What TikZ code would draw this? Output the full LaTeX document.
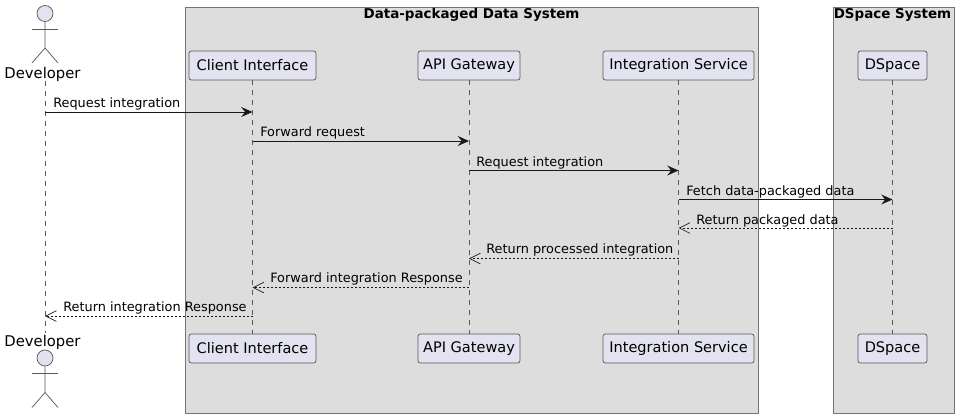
\documentclass[tikz,border=0pt]{standalone}
\usepackage{fontspec}
\setmainfont{DejaVu Sans}
\usetikzlibrary{arrows.meta, positioning}

\tikzset{
    partbox/.style={draw=black!55, fill=black!13.5, line width=0.75pt},
    parttitle/.style={font=\bfseries\fontsize{10.1}{12}\selectfont, inner sep=0pt},
    part/.style={rectangle, rounded corners=1.8pt, draw=black!65, fill=partfill, line width=0.55pt,
        font=\fontsize{10.9}{12}\selectfont, minimum height=21.75pt, inner sep=0pt, outer sep=0pt},
    actorname/.style={font=\fontsize{11.1}{12}\selectfont, inner sep=0pt},
    lifeline/.style={draw=black!65, line width=0.5pt, dash pattern=on 3.75pt off 3.75pt},
    actorline/.style={draw=black!65, line width=0.55pt},
    call/.style={-{Stealth[length=8.5pt, width=7.5pt, inset=3pt]}, line width=0.7pt, draw=black!90},
    reply/.style={-{Straight Barb[length=8pt, width=8pt]}, line width=0.5pt, draw=black!90, dash pattern=on 1.5pt off 1.5pt},
    msg/.style={font=\fontsize{9.65}{11}\selectfont, inner sep=0pt, anchor=base west},
    actor/.pic={
        \node[circle, draw=black!65, fill=partfill, line width=0.55pt, minimum size=12pt, inner sep=0pt] (-head) at (0,0) {};
        \draw[actorline] (-head.south) -- (0,34.5) -- (-13,49.5);
        \draw[actorline] (0,34.5) -- (13,49.5);
        \draw[actorline] (-13,15.5) -- (13,15.5);
    }
}
\definecolor{partfill}{HTML}{E2E2F0}

\begin{document}
\begin{tikzpicture}[x=0.75pt, y=-0.75pt]
    \useasboundingbox (0,0) rectangle (959,418);

    % grouping boxes
    \draw[partbox] (185.5,7) rectangle (758,413);
    \draw[partbox] (833,7) rectangle (954,413);
    \node[parttitle] (dataTitle) at (471.5,14.5) {Data-packaged Data System};
    \node[parttitle] (dspaceTitle) at (892.5,14.5) {DSpace System};

    % participants on top
    \node[actorname] (devTop) at (42.5,74) {Developer};
    \node[part, minimum width=95.25pt] (clientTop) at (252.5,65.5) {Client Interface};
    \node[part, minimum width=76.5pt, right=76.5pt of clientTop] (apiTop) {API Gateway};
    \node[part, minimum width=113.25pt, right=62.25pt of apiTop] (integTop) {Integration Service};
    \node[part, minimum width=51.75pt, right=78pt of integTop] (dspaceTop) {DSpace};

    % participants at the bottom
    \node[actorname] (devBot) at (42.5,342) {Developer};
    \node[part, minimum width=95.25pt, below=190.5pt of clientTop] (clientBot) {Client Interface};
    \node[part, minimum width=76.5pt, below=190.5pt of apiTop] (apiBot) {API Gateway};
    \node[part, minimum width=113.25pt, below=190.5pt of integTop] (integBot) {Integration Service};
    \node[part, minimum width=51.75pt, below=190.5pt of dspaceTop] (dspaceBot) {DSpace};

    \pic (devIconTop) at (45,13.5) {actor};
    \pic (devIconBot) at (45,358) {actor};

    % lifelines
    \coordinate (devStart) at (45,81);
    \coordinate (devEnd) at (45,333);
    \draw[lifeline] (devStart) -- (devEnd);
    \draw[lifeline] (clientTop.south) -- (clientBot.north);
    \draw[lifeline] (apiTop.south) -- (apiBot.north);
    \draw[lifeline] (integTop.south) -- (integBot.north);
    \draw[lifeline] (dspaceTop.south) -- (dspaceBot.north);

    % messages
    \coordinate (m1) at (0,112);
    \coordinate (m2) at (0,141);
    \coordinate (m3) at (0,170.5);
    \coordinate (m4) at (0,199.5);
    \coordinate (m5) at (0,228);
    \coordinate (m6) at (0,258.5);
    \coordinate (m7) at (0,287.5);
    \coordinate (m8) at (0,316);

    \draw[call] (devStart |- m1) -- (clientTop |- m1);
    \draw[call] (clientTop |- m2) -- (apiTop |- m2);
    \draw[call] (apiTop |- m3) -- (integTop |- m3);
    \draw[call] (integTop |- m4) -- (dspaceTop |- m4);
    \draw[reply] (dspaceTop |- m5) -- (integTop |- m5);
    \draw[reply] (integTop |- m6) -- (apiTop |- m6);
    \draw[reply] (apiTop |- m7) -- (clientTop |- m7);
    \draw[reply] (clientTop |- m8) -- (devStart |- m8);

    \node[msg] (msgA) at (53,107) {Request integration};
    \node[msg] (msgB) at (260,136) {Forward request};
    \node[msg] (msgC) at (476,166.5) {Request integration};
    \node[msg] (msgD) at (686,195.5) {Fetch data-packaged data};
    \node[msg] (msgE) at (696,224) {Return packaged data};
    \node[msg] (msgF) at (486,253.5) {Return processed integration};
    \node[msg] (msgG) at (270,282.5) {Forward integration Response};
    \node[msg] (msgH) at (63,311) {Return integration Response};
\end{tikzpicture}
\end{document}
